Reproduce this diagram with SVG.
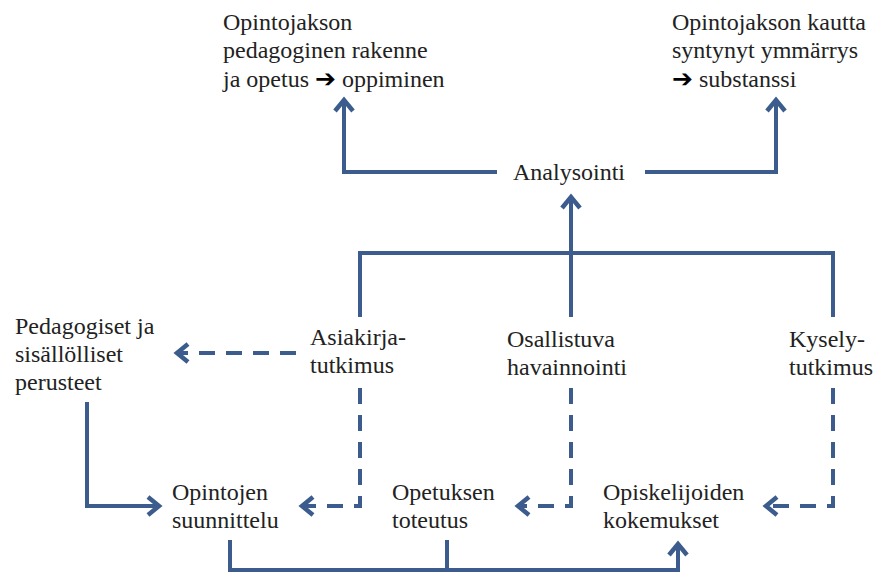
<svg xmlns="http://www.w3.org/2000/svg" width="880" height="574" viewBox="0 0 880 574">
<style>
  .t { font-family: 'Liberation Serif', 'DejaVu Serif', 'Noto Serif', serif; font-size: 24px; fill: #222; }
  .arr { font-family: 'DejaVu Sans', sans-serif; font-size: 25px; fill: #000; font-weight: bold; }
  .c { fill: none; stroke: #3C5C8E; stroke-width: 4; }
  .d { stroke-dasharray: 16 11; }
</style>
<defs>
  <marker id="ah" markerUnits="userSpaceOnUse" markerWidth="30" markerHeight="30" viewBox="-15 -15 30 30" refX="0" refY="0" orient="auto" overflow="visible">
    <path d="M-11,-9 L0,0 L-11,9" fill="none" stroke="#3C5C8E" stroke-width="4.5" stroke-dasharray="none"/>
  </marker>
</defs>
<rect width="880" height="574" fill="#fff"/>
<g id="connectors">
  <path class="c" d="M497,172 H344 V100" marker-end="url(#ah)"/>
  <path class="c" d="M645,172 H776 V100" marker-end="url(#ah)"/>
  <path class="c" d="M571,317 V197" marker-end="url(#ah)"/>
  <path class="c" d="M360,317 V253 H833 V317"/>
  <path class="c d" d="M296,353 H177" marker-end="url(#ah)"/>
  <path class="c d" d="M360,388 V506 H302" marker-end="url(#ah)"/>
  <path class="c d" d="M571,388 V506 H518" marker-end="url(#ah)"/>
  <path class="c d" d="M833,388 V506 H766" marker-end="url(#ah)"/>
  <path class="c" d="M87,402 V506 H159" marker-end="url(#ah)"/>
  <path class="c" d="M230,540 V570 H678 V544" marker-end="url(#ah)"/>
  <path class="c" d="M447,540 V570"/>
</g>
<g id="n-rakenne" class="t">
  <text x="223" y="30">Opintojakson</text>
  <text x="223" y="58">pedagoginen rakenne</text>
  <text x="223" y="87">ja opetus <tspan class="arr">➔</tspan> oppiminen</text>
</g>
<g id="n-substanssi" class="t">
  <text x="672" y="30">Opintojakson kautta</text>
  <text x="672" y="58">syntynyt ymmärrys</text>
  <text x="672" y="87"><tspan class="arr">➔</tspan> substanssi</text>
</g>
<g id="n-analysointi" class="t">
  <text x="513" y="180">Analysointi</text>
</g>
<g id="n-perusteet" class="t">
  <text x="15" y="334">Pedagogiset ja</text>
  <text x="15" y="362">sisällölliset</text>
  <text x="15" y="390">perusteet</text>
</g>
<g id="n-asiakirja" class="t">
  <text x="310" y="345">Asiakirja-</text>
  <text x="310" y="373">tutkimus</text>
</g>
<g id="n-havainnointi" class="t">
  <text x="507" y="347">Osallistuva</text>
  <text x="507" y="375">havainnointi</text>
</g>
<g id="n-kysely" class="t">
  <text x="789" y="347">Kysely-</text>
  <text x="789" y="375">tutkimus</text>
</g>
<g id="n-suunnittelu" class="t">
  <text x="172" y="500">Opintojen</text>
  <text x="172" y="528">suunnittelu</text>
</g>
<g id="n-toteutus" class="t">
  <text x="392" y="500">Opetuksen</text>
  <text x="392" y="528">toteutus</text>
</g>
<g id="n-kokemukset" class="t">
  <text x="603" y="500">Opiskelijoiden</text>
  <text x="603" y="528">kokemukset</text>
</g>
</svg>
